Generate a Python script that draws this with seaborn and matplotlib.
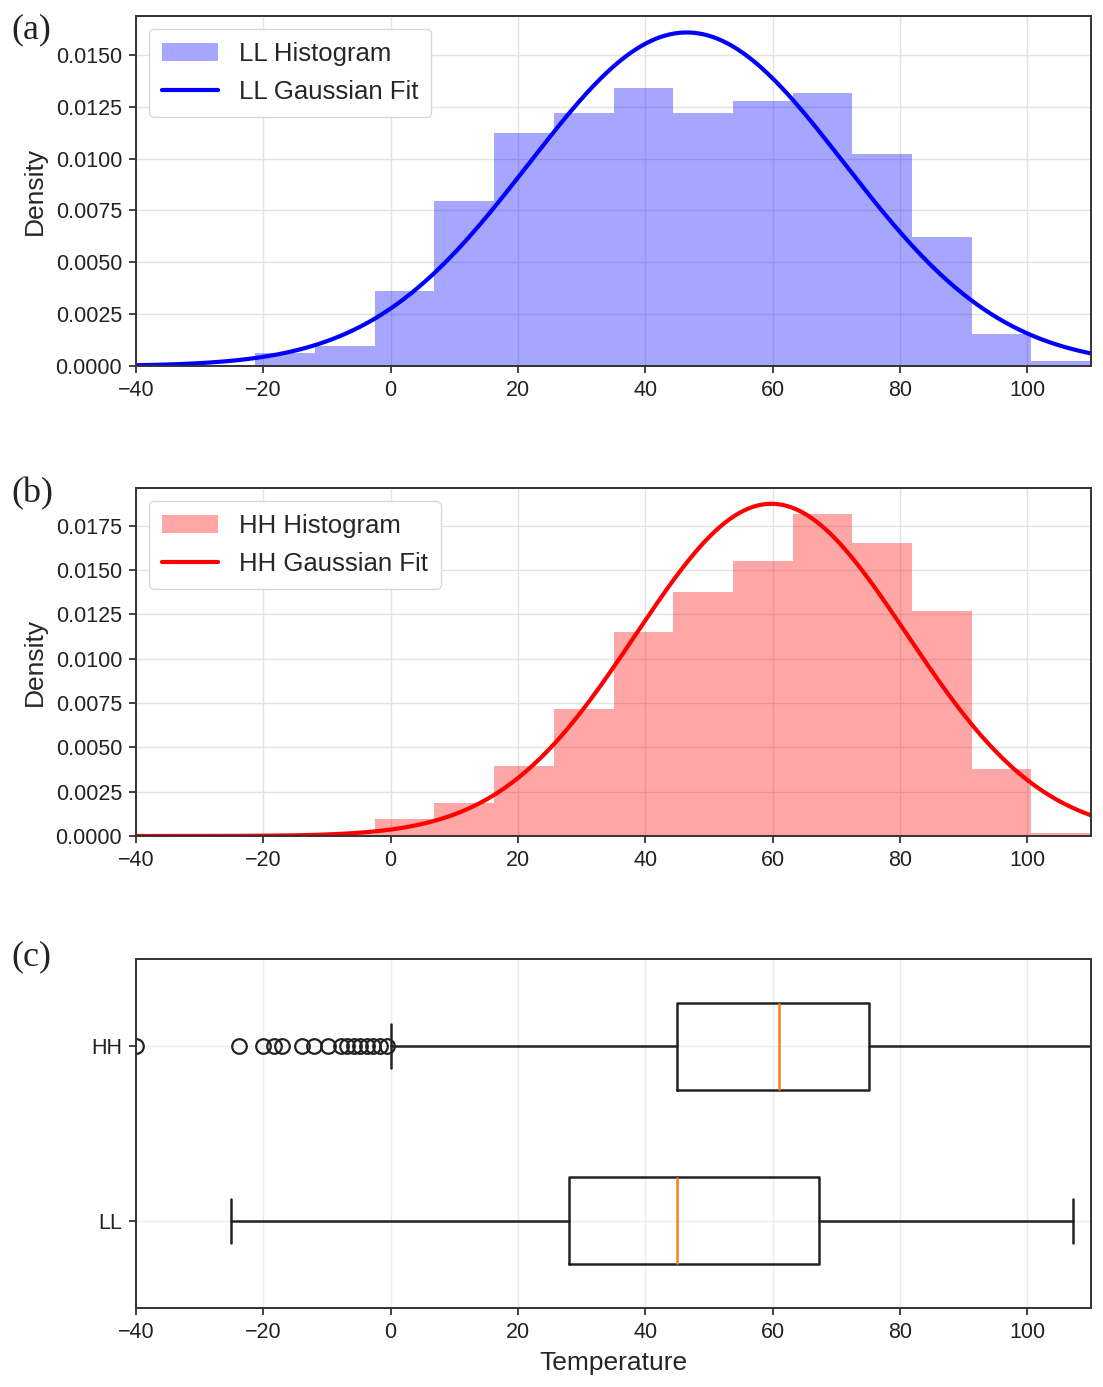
import numpy as np
import pandas as pd
import seaborn as sns
import matplotlib.pyplot as plt
from matplotlib.ticker import FormatStrFormatter, MultipleLocator

# shared histogram bins (16 bins from -40 to 110)
bin_edges = list(np.linspace(-40, 110, 17))

# LL histogram densities, one per bin
ll_density = [0.0, 0.00002, 0.00063, 0.00098, 0.00362, 0.00797, 0.01124, 0.01222,
              0.01341, 0.01222, 0.01278, 0.01315, 0.01024, 0.0062, 0.00155, 0.00024]
# HH histogram densities
hh_density = [0.00002, 0.00002, 0.00004, 0.00012, 0.00094, 0.00184, 0.00396, 0.00715,
              0.0115, 0.01376, 0.0155, 0.01817, 0.01654, 0.01271, 0.00379, 0.00015]

# gaussian fit parameters (mean, std)
ll_mu, ll_sigma = 46.5, 24.8
hh_mu, hh_sigma = 59.8, 21.3

# boxplot summaries
ll_box = dict(med=45.0, q1=28.0, q3=67.2, whislo=-25.0, whishi=107.1, fliers=[])
hh_box = dict(med=61.0, q1=45.0, q3=75.1, whislo=0.0, whishi=110.0,
              fliers=[-40.0, -23.9, -20.0, -18.4, -17.1, -13.9, -12.0, -9.9,
                      -7.8, -6.9, -5.8, -4.8, -3.7, -2.7, -1.6, -0.6])
box_labels = ["LL", "HH"]

sns.set_style("ticks")
plt.rcParams['font.family'] = ['Liberation Sans', 'DejaVu Sans']

fig = plt.figure(figsize=(11.03, 13.87), dpi=100)
W, H = 1103, 1387


def add_ax(top, bottom, left=136, right=1091):
    return fig.add_axes([left / W, 1 - bottom / H, (right - left) / W, (bottom - top) / H])


def style_ax(ax):
    ax.grid(True, color='#e3e3e3', lw=1.0)
    ax.set_axisbelow(True)
    for s in ax.spines.values():
        s.set_color('#333333')
        s.set_linewidth(1.4)
    ax.tick_params(labelsize=15.5, colors='#333333', labelcolor='#222222',
                   length=5, width=1.3, direction='out', pad=5)


def hist_panel(ax, dens, mu, sigma, color, name, ytop):
    centers = [(a + b) / 2 for a, b in zip(bin_edges[:-1], bin_edges[1:])]
    df = pd.DataFrame({'x': centers, 'w': dens})
    sns.histplot(data=df, x='x', weights='w', bins=bin_edges, stat='count',
                 color=color, alpha=0.35, linewidth=0, ax=ax,
                 label=f"{name} Histogram")
    xs = np.linspace(-40, 110, 400)
    pdf = np.exp(-(xs - mu) ** 2 / (2 * sigma ** 2)) / (sigma * np.sqrt(2 * np.pi))
    sns.lineplot(x=xs, y=pdf, color=color, lw=3, ax=ax, label=f"{name} Gaussian Fit")
    ax.set_xlim(-40, 110)
    ax.set_ylim(0, ytop)
    ax.yaxis.set_major_locator(MultipleLocator(0.0025))
    ax.yaxis.set_major_formatter(FormatStrFormatter('%.4f'))
    ax.xaxis.set_major_locator(MultipleLocator(20))
    ax.set_ylabel('Density', fontsize=19, labelpad=6)
    ax.set_xlabel('')
    style_ax(ax)
    handles, labels = ax.get_legend_handles_labels()
    order = [labels.index(f"{name} Histogram"), labels.index(f"{name} Gaussian Fit")]
    leg = ax.legend([handles[i] for i in order], [labels[i] for i in order],
                    loc='upper left', fontsize=18.5, frameon=True, fancybox=True,
                    framealpha=1, edgecolor='#d8d8d8', handlelength=2.2,
                    borderpad=0.5, labelspacing=0.55, borderaxespad=0.5)
    leg.get_frame().set_linewidth(1.0)


ax_a = add_ax(16, 366)
hist_panel(ax_a, ll_density, ll_mu, ll_sigma, 'blue', 'LL', 0.01688)

ax_b = add_ax(488, 836)
hist_panel(ax_b, hh_density, hh_mu, hh_sigma, 'red', 'HH', 0.01962)

ax_c = add_ax(959, 1308)
stats = []
for lab, b in zip(box_labels, [ll_box, hh_box]):
    d = dict(b)
    d['label'] = lab
    stats.append(d)
ax_c.bxp(stats, positions=[1, 2], widths=0.5, orientation='horizontal',
         boxprops=dict(color='#222222', lw=1.8),
         whiskerprops=dict(color='#222222', lw=1.8),
         capprops=dict(color='#222222', lw=1.8),
         medianprops=dict(color='#ff7f0e', lw=1.8),
         flierprops=dict(marker='o', mfc='none', mec='#222222', ms=10.5, mew=1.6))
ax_c.set_xlim(-40, 110)
ax_c.set_ylim(0.5, 2.5)
ax_c.xaxis.set_major_locator(MultipleLocator(20))
ax_c.set_xlabel('Temperature', fontsize=19, labelpad=6)
style_ax(ax_c)
ax_c.grid(True, color='#ececec', lw=1.0)

for txt, y in [('(a)', 30), ('(b)', 494), ('(c)', 957)]:
    fig.text(11 / W, 1 - y / H, txt, fontsize=26, family='Liberation Serif',
             va='center', ha='left', color='#222222')

fig.savefig('out.png', dpi=100)
